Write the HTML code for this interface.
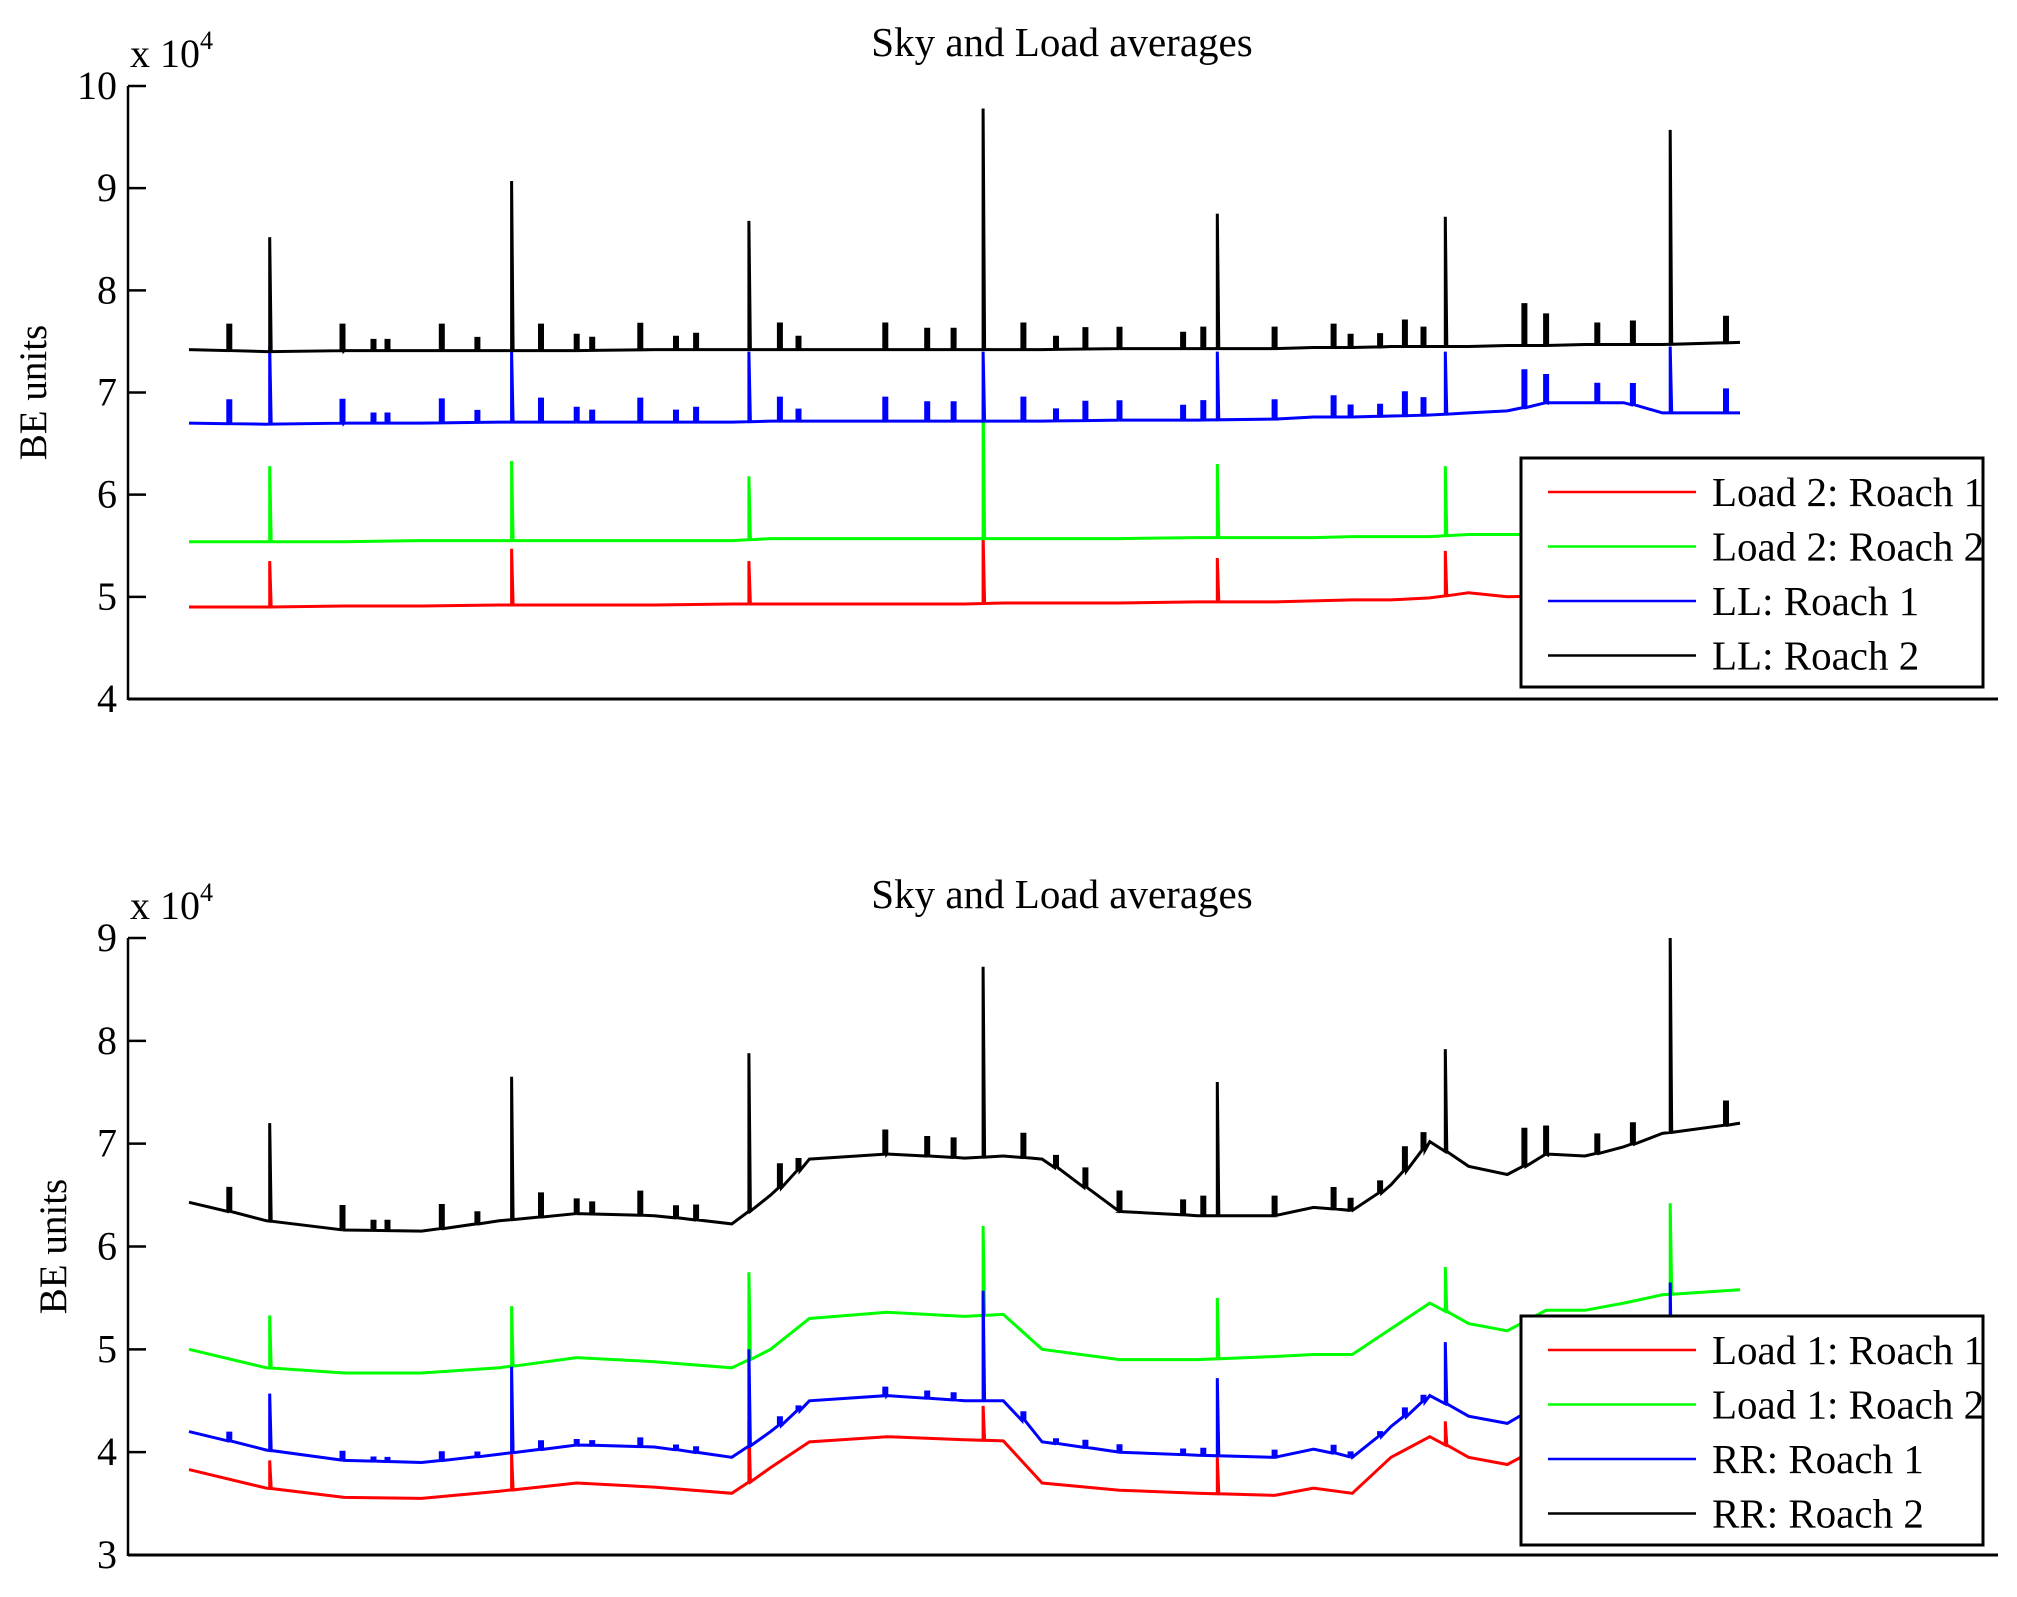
<!DOCTYPE html>
<html><head><meta charset="utf-8"><style>
html,body{margin:0;padding:0;background:#fff;}
svg text{font-family:"Liberation Serif",serif;fill:#000;}
</style></head><body>
<svg id="chart" width="2017" height="1592" viewBox="0 0 2017 1592" xmlns="http://www.w3.org/2000/svg"></svg>
<script>
// shared time grid (arbitrary sample index 0..1000)
const gridT = [0,50,100,150,200,250,300,350,375,400,450,500,525,550,600,650,700,725,750,775,800,825,850,875,900,925,950,1000];
const spikeT = [52,208,361,512,663,810,955];
const bumpT = [25,98,118,127,162,185,226,249,259,290,313,326,380,392,448,475,492,537,558,577,599,640,653,699,737,748,767,783,795,860,874,907,930,990];
const bumpH = [0.25,0.25,0.1,0.1,0.25,0.12,0.25,0.15,0.12,0.25,0.12,0.15,0.25,0.12,0.25,0.2,0.2,0.25,0.12,0.2,0.2,0.15,0.2,0.2,0.22,0.12,0.12,0.25,0.18,0.4,0.3,0.2,0.22,0.25];

// Top plot (x 10^4)
const topRed   = [4.90,4.90,4.91,4.91,4.92,4.92,4.92,4.93,4.93,4.93,4.93,4.93,4.94,4.94,4.94,4.95,4.95,4.96,4.97,4.97,4.99,5.04,5.00,5.01,5.01,5.02,5.02,5.02];
const topGreen = [5.54,5.54,5.54,5.55,5.55,5.55,5.55,5.55,5.57,5.57,5.57,5.57,5.57,5.57,5.57,5.58,5.58,5.58,5.59,5.59,5.59,5.61,5.61,5.61,5.62,5.62,5.62,5.62];
const topBlue  = [6.70,6.69,6.70,6.70,6.71,6.71,6.71,6.71,6.72,6.72,6.72,6.72,6.72,6.72,6.73,6.73,6.74,6.76,6.76,6.77,6.78,6.80,6.82,6.90,6.90,6.90,6.80,6.80];
const topBlack = [7.42,7.40,7.41,7.41,7.41,7.41,7.42,7.42,7.42,7.42,7.42,7.42,7.42,7.42,7.43,7.43,7.43,7.44,7.44,7.45,7.45,7.45,7.46,7.46,7.47,7.47,7.47,7.49];
const topRedSpk   = [5.35,5.47,5.35,5.60,5.38,5.45,5.30];
const topGreenSpk = [6.28,6.33,6.18,6.95,6.30,6.28,6.35];
const topBlueSpk  = [7.45,7.40,7.40,7.40,7.40,7.40,7.45];
const topBlackSpk = [8.52,9.07,8.68,9.78,8.75,8.72,9.57];

// Bottom plot (x 10^4)
const botRed   = [3.83,3.65,3.56,3.55,3.62,3.70,3.66,3.60,3.85,4.10,4.15,4.12,4.11,3.70,3.63,3.60,3.58,3.65,3.60,3.95,4.15,3.95,3.88,4.08,4.06,4.12,4.20,4.30];
const botGreen = [5.00,4.82,4.77,4.77,4.82,4.92,4.88,4.82,5.00,5.30,5.36,5.32,5.34,5.00,4.90,4.90,4.93,4.95,4.95,5.20,5.45,5.25,5.18,5.38,5.38,5.45,5.53,5.58];
const botBlue  = [4.20,4.02,3.92,3.90,3.98,4.07,4.05,3.95,4.20,4.50,4.55,4.50,4.50,4.10,4.00,3.97,3.95,4.03,3.95,4.25,4.55,4.35,4.28,4.50,4.47,4.50,4.55,4.65];
const botBlack = [6.43,6.25,6.16,6.15,6.25,6.32,6.30,6.22,6.50,6.85,6.90,6.86,6.88,6.85,6.34,6.30,6.30,6.38,6.35,6.60,7.02,6.78,6.70,6.90,6.88,6.97,7.10,7.20];
const botRedSpk   = [3.92,3.98,4.30,4.45,3.95,4.30,4.40];
const botGreenSpk = [5.33,5.42,5.75,6.20,5.50,5.80,6.42];
const botBlueSpk  = [4.57,4.83,5.00,5.57,4.72,5.07,5.65];
const botBlackSpk = [7.20,7.65,7.88,8.72,7.60,7.92,9.00];

const NS='http://www.w3.org/2000/svg';
const svg=document.getElementById('chart');
function mk(tag,attrs,parent){const e=document.createElementNS(NS,tag);for(const k in attrs)e.setAttribute(k,attrs[k]);(parent||svg).appendChild(e);return e;}
function interp(arr,t){for(let i=0;i<gridT.length-1;i++){if(t>=gridT[i]&&t<=gridT[i+1]){const f=(t-gridT[i])/(gridT[i+1]-gridT[i]);return arr[i]+f*(arr[i+1]-arr[i]);}}return arr[arr.length-1];}

function drawPlot(cfg){
  const xL=128,xR=1998,pL=189,pR=1740;
  const xs=t=>pL+(t/1000)*(pR-pL);
  const ys=v=>cfg.yBot-(v-cfg.yMin)/(cfg.yMax-cfg.yMin)*(cfg.yBot-cfg.yTop);
  const g=mk('g',{});
  
  
  const series=cfg.series;
  series.forEach(s=>{
    const ev=[];
    gridT.forEach((t,i)=>ev.push({t:t,type:'b'}));
    spikeT.forEach((t,i)=>ev.push({t:t,type:'s',h:s.spk[i]}));
    if(s.bumps){bumpT.forEach((t,i)=>ev.push({t:t,type:'u',h:bumpH[i]*s.bumps}));}
    ev.sort((a,b)=>a.t-b.t);
    const pts=[];
    ev.forEach(e=>{
      const b=interp(s.base,e.t);
      if(e.type==='b')pts.push([xs(e.t),ys(b)]);
      else if(e.type==='s'){pts.push([xs(e.t),ys(b)]);pts.push([xs(e.t),ys(e.h)]);pts.push([xs(e.t)+1.5,ys(b)]);}
      else {pts.push([xs(e.t),ys(b)]);pts.push([xs(e.t),ys(b+e.h)]);pts.push([xs(e.t)+3,ys(b+e.h)]);pts.push([xs(e.t)+3,ys(b)]);}
    });
    const p=mk('polyline',{points:pts.map(q=>q[0].toFixed(1)+','+q[1].toFixed(1)).join(' '),fill:'none',stroke:s.color,'stroke-width':3,'stroke-linejoin':'miter'},g);
    
    
  });
  const ax=mk('line',{x1:xL,y1:cfg.yTop,x2:xL,y2:cfg.yBot+1,stroke:'#000','stroke-width':2.5},g);
  
  
  const bx=mk('line',{x1:xL,y1:cfg.yBot,x2:xR,y2:cfg.yBot,stroke:'#000','stroke-width':3},g);
  
  
  cfg.ticks.forEach(v=>{
    const y=ys(v);
    const tk=mk('line',{x1:xL,y1:y,x2:xL+18,y2:y,stroke:'#000','stroke-width':2.5},g);
    
    
    const tx=mk('text',{x:117,y:y+13,'text-anchor':'end','font-size':40},g);
    tx.textContent=v;
    
    
  });
  const ex=mk('text',{x:130,y:cfg.yTop-19,'font-size':40},g);
  ex.innerHTML='x 10<tspan dy="-18" font-size="26">4</tspan>';
  
  
  const tt=mk('text',{x:1062,y:cfg.yTop-30,'text-anchor':'middle','font-size':41},g);
  tt.textContent='Sky and Load averages';
  
  
  const yl=mk('text',{x:0,y:0,'text-anchor':'middle','font-size':39,transform:'translate('+cfg.ylx+','+((cfg.yTop+cfg.yBot)/2)+') rotate(-90)'},g);
  yl.textContent='BE units';
  
  
  const lg=mk('g',{},g);
  
  
  const lt=cfg.legTop;
  const box=mk('rect',{x:1521,y:lt,width:462,height:229,fill:'#fff',stroke:'#000','stroke-width':3},lg);
  
  
  series.forEach((s,i)=>{
    const y=lt+34+i*54.5;
    const l=mk('line',{x1:1548,y1:y,x2:1696,y2:y,stroke:s.color,'stroke-width':2.5},lg);
    
    
    const t=mk('text',{x:1712,y:y+14,'font-size':41},lg);
    t.textContent=s.label;
    
    
  });
}

drawPlot({name:'top-plot',yTop:86,yBot:699,yMin:4,yMax:10,ticks:[4,5,6,7,8,9,10],ylx:46,legTop:458,
  series:[
    {key:'load2-roach1',label:'Load 2: Roach 1',color:'#ff0000',base:topRed,spk:topRedSpk,bumps:0},
    {key:'load2-roach2',label:'Load 2: Roach 2',color:'#00ff00',base:topGreen,spk:topGreenSpk,bumps:0},
    {key:'ll-roach1',label:'LL: Roach 1',color:'#0000ff',base:topBlue,spk:topBlueSpk,bumps:0.9},
    {key:'ll-roach2',label:'LL: Roach 2',color:'#000000',base:topBlack,spk:topBlackSpk,bumps:1}
  ]});
drawPlot({name:'bottom-plot',yTop:938,yBot:1555,yMin:3,yMax:9,ticks:[3,4,5,6,7,8,9],ylx:66,legTop:1316,
  series:[
    {key:'load1-roach1',label:'Load 1: Roach 1',color:'#ff0000',base:botRed,spk:botRedSpk,bumps:0},
    {key:'load1-roach2',label:'Load 1: Roach 2',color:'#00ff00',base:botGreen,spk:botGreenSpk,bumps:0},
    {key:'rr-roach1',label:'RR: Roach 1',color:'#0000ff',base:botBlue,spk:botBlueSpk,bumps:0.3},
    {key:'rr-roach2',label:'RR: Roach 2',color:'#000000',base:botBlack,spk:botBlackSpk,bumps:0.9}
  ]});
</script>
</body></html>
